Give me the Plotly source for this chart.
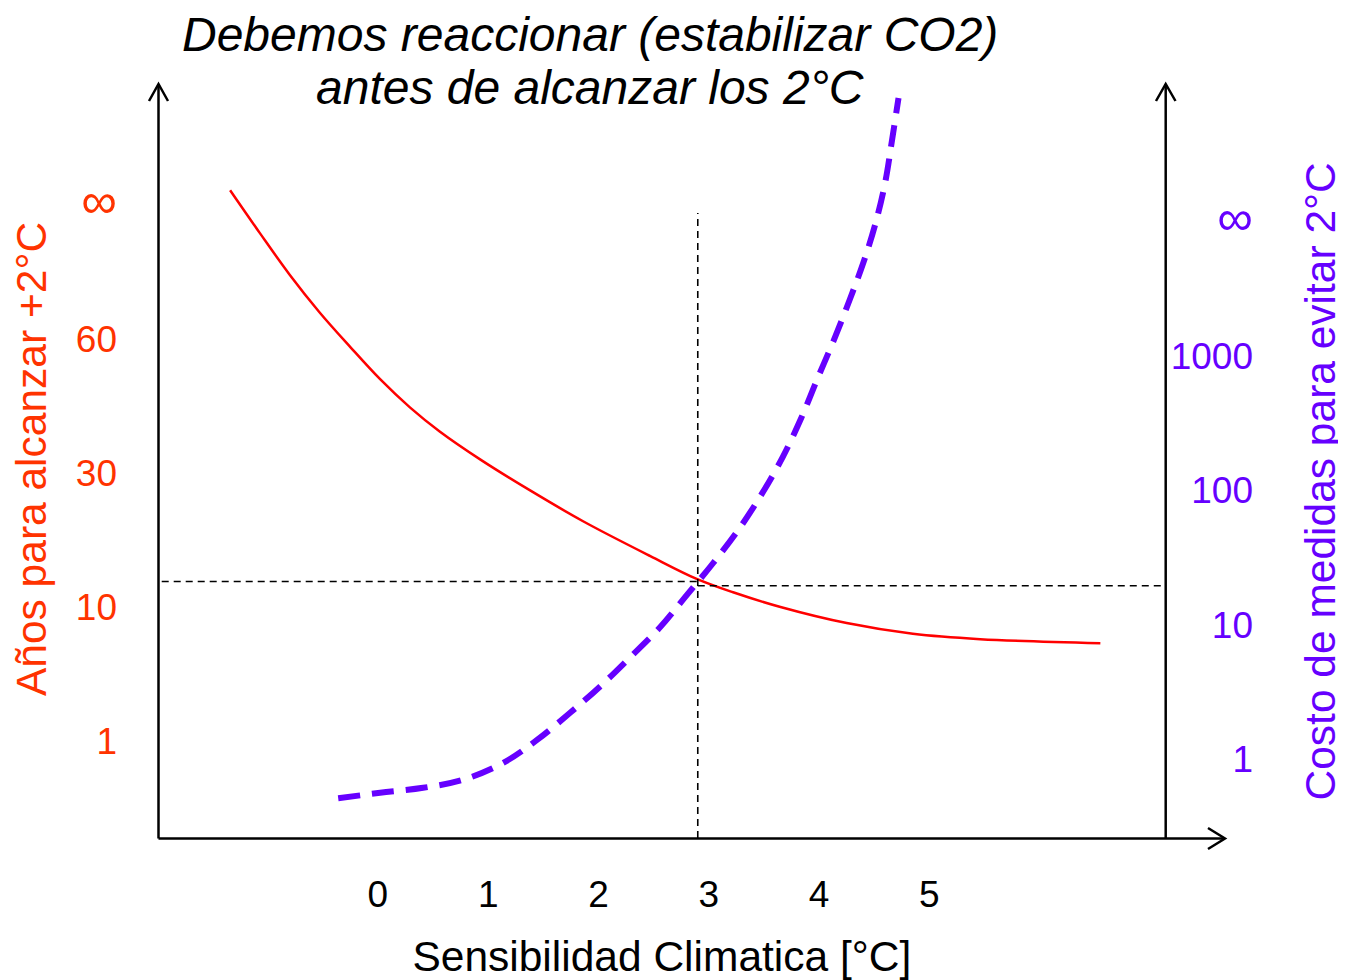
import plotly.graph_objects as go

# ---------------- data ----------------
# x: climate sensitivity [°C]
x_ticks = [0, 1, 2, 3, 4, 5]
x_ticklabels = ["0", "1", "2", "3", "4", "5"]

# left axis (schematic scale): tick positions and labels
left_tickvals = [0, 1, 2, 3, 4]
left_ticklabels = ["1", "10", "30", "60", "∞"]

# right axis (log): cost
right_tickvals = [1, 10, 100, 1000, 10000]
right_ticklabels = ["1", "10", "100", "1000", "∞"]

# red curve: years to reach +2°C (in left schematic-scale units)
years_x = [-1.34, -1.07, -0.80, -0.53, -0.25, 0.02, 0.29, 0.56, 0.93, 1.38, 1.86,
           2.47, 2.89, 3.22, 3.65, 4.25, 4.85, 5.46, 6.55]
years_y = [4.11, 3.79, 3.48, 3.20, 2.94, 2.70, 2.49, 2.31, 2.10, 1.87, 1.64,
           1.38, 1.21, 1.11, 1.00, 0.88, 0.80, 0.76, 0.73]

# purple dashed curve: cost of measures to avoid 2°C
cost_x = [-0.36, 0.02, 0.41, 0.77, 1.13, 1.44, 1.74, 2.01, 2.29, 2.56, 2.80, 3.04, 3.28,
          3.49, 3.67, 3.83, 3.98, 4.13, 4.28, 4.40, 4.51, 4.60, 4.66, 4.72]
cost_y = [0.51, 0.56, 0.61, 0.70, 0.93, 1.38, 2.2, 3.44, 5.75, 9.6, 16.6, 28.8, 52.5,
          97, 177, 334, 664, 1295, 2660, 4930, 9640, 19800, 40000, 83600]

# reference (critical) values
crit_x = 2.9
crit_years = 1.19
crit_cost = 19.5
x_left_end = -1.96
years_top = 3.94

# ---------------- layout geometry ----------------
OFF = 8                      # page body margin of the html page
W, H = 1346 - OFF, 980 - OFF
L, R, T, B = 158, 1262, 80, 838   # plot area in reference pixels
X_AXIS_END = 1165.7               # right axis position in reference pixels

def fx(px):
    return (px - L) / (R - L)

def fy(py):
    return (B - py) / (B - T)

X_RANGE = [(L - 377.9) / 110.3, (X_AXIS_END - 377.9) / 110.3]
Y_RANGE = [(741 - B) / 134.0, (741 - T) / 134.0]
Y2_RANGE = [(759 - B) / 134.3, (759 - T) / 134.3]

FONT = "Liberation Sans, Arial, sans-serif"
ORANGE = "#FF3300"
PURPLE = "#6600FF"

def big_inf(labels):
    return ['<span style="font-size:50px">∞</span>' if t == "∞" else t for t in labels]

fig = go.Figure()

fig.add_trace(go.Scatter(
    x=years_x, y=years_y, mode="lines", yaxis="y",
    line=dict(color="#FF0000", width=2.5, shape="spline", smoothing=1.0),
    showlegend=False, hoverinfo="skip"))

fig.add_trace(go.Scatter(
    x=cost_x, y=cost_y, mode="lines", yaxis="y2",
    line=dict(color=PURPLE, width=6, dash="22px,12px", shape="spline", smoothing=1.0),
    showlegend=False, hoverinfo="skip"))

ref_line = dict(color="black", width=1.6, dash="7px,5px")
fig.add_trace(go.Scatter(x=[x_left_end, crit_x], y=[crit_years, crit_years], yaxis="y",
                         mode="lines", line=ref_line, showlegend=False, hoverinfo="skip"))
fig.add_trace(go.Scatter(x=[crit_x, X_RANGE[1]], y=[crit_cost, crit_cost], yaxis="y2",
                         mode="lines", line=ref_line, showlegend=False, hoverinfo="skip"))
fig.add_trace(go.Scatter(x=[crit_x, crit_x], y=[Y_RANGE[0], years_top], yaxis="y",
                         mode="lines", line=ref_line, showlegend=False, hoverinfo="skip"))

# axis lines with open arrowheads
axis_style = dict(color="black", width=2.5)
def seg(p0, p1):
    fig.add_shape(type="line", xref="paper", yref="paper",
                  x0=fx(p0[0]), y0=fy(p0[1]), x1=fx(p1[0]), y1=fy(p1[1]),
                  line=axis_style, layer="above")

def chevron(a, tip, b):
    path = "M {} {} L {} {} L {} {}".format(fx(a[0]), fy(a[1]), fx(tip[0]), fy(tip[1]), fx(b[0]), fy(b[1]))
    fig.add_shape(type="path", xref="paper", yref="paper", path=path,
                  line=axis_style, layer="above")

seg((158.5, 838.5), (158.5, 84))
chevron((149, 101), (158.5, 84), (168, 101))
seg((X_AXIS_END, 838.5), (X_AXIS_END, 84))
chevron((X_AXIS_END - 9.7, 101), (X_AXIS_END, 84), (X_AXIS_END + 9.8, 101))
seg((158.5, 838.5), (1225, 838.5))
chevron((1208, 828), (1225, 838.5), (1208, 849))

# title lines and right-axis title
fig.add_annotation(text="<i>Debemos reaccionar (estabilizar CO2)</i>", xref="paper", yref="paper",
                   x=fx(590), y=fy(OFF), xanchor="center", yanchor="top", showarrow=False,
                   borderpad=0, borderwidth=0,
                   font=dict(size=48, family=FONT, color="black"))
fig.add_annotation(text="<i>antes de alcanzar los 2°C</i>", xref="paper", yref="paper",
                   x=fx(589.5), y=fy(87.5), xanchor="center", yanchor="middle", showarrow=False,
                   font=dict(size=48, family=FONT, color="black"))
fig.add_annotation(text="Costo de medidas para evitar 2°C", xref="paper", yref="paper",
                   x=fx(1320), y=fy(481.5), xanchor="center", yanchor="middle", showarrow=False,
                   textangle=-90, font=dict(size=42.5, family=FONT, color=PURPLE))

fig.update_layout(
    width=W, height=H,
    margin=dict(l=L - OFF, r=W - (R - OFF), t=T - OFF, b=H - (B - OFF), autoexpand=False),
    paper_bgcolor="white", plot_bgcolor="white",
    font=dict(family=FONT, color="black"),
    xaxis=dict(domain=[0, fx(X_AXIS_END)], range=X_RANGE,
               showgrid=False, zeroline=False, showline=False,
               tickvals=x_ticks, ticktext=x_ticklabels, ticks="",
               tickfont=dict(size=37, color="black"), ticklabelstandoff=31,
               title=dict(text="Sensibilidad Climatica [°C]", font=dict(size=42.5, color="black"), standoff=29),
               automargin=False),
    yaxis=dict(range=Y_RANGE, showgrid=False, zeroline=False, showline=False,
               tickvals=left_tickvals, ticktext=big_inf(left_ticklabels), ticks="",
               tickfont=dict(size=37, color=ORANGE), ticklabelstandoff=40,
               title=dict(text="Años para alcanzar +2°C", font=dict(size=42.5, color=ORANGE), standoff=17),
               automargin=False),
    yaxis2=dict(type="log", range=Y2_RANGE, overlaying="y", side="right", anchor="free", position=1.0,
                showgrid=False, zeroline=False, showline=False,
                tickvals=right_tickvals, ticktext=big_inf(right_ticklabels), ticks="",
                ticklabelposition="inside", tickfont=dict(size=37, color=PURPLE), ticklabelstandoff=6,
                automargin=False),
)

fig.write_html("out.html")
